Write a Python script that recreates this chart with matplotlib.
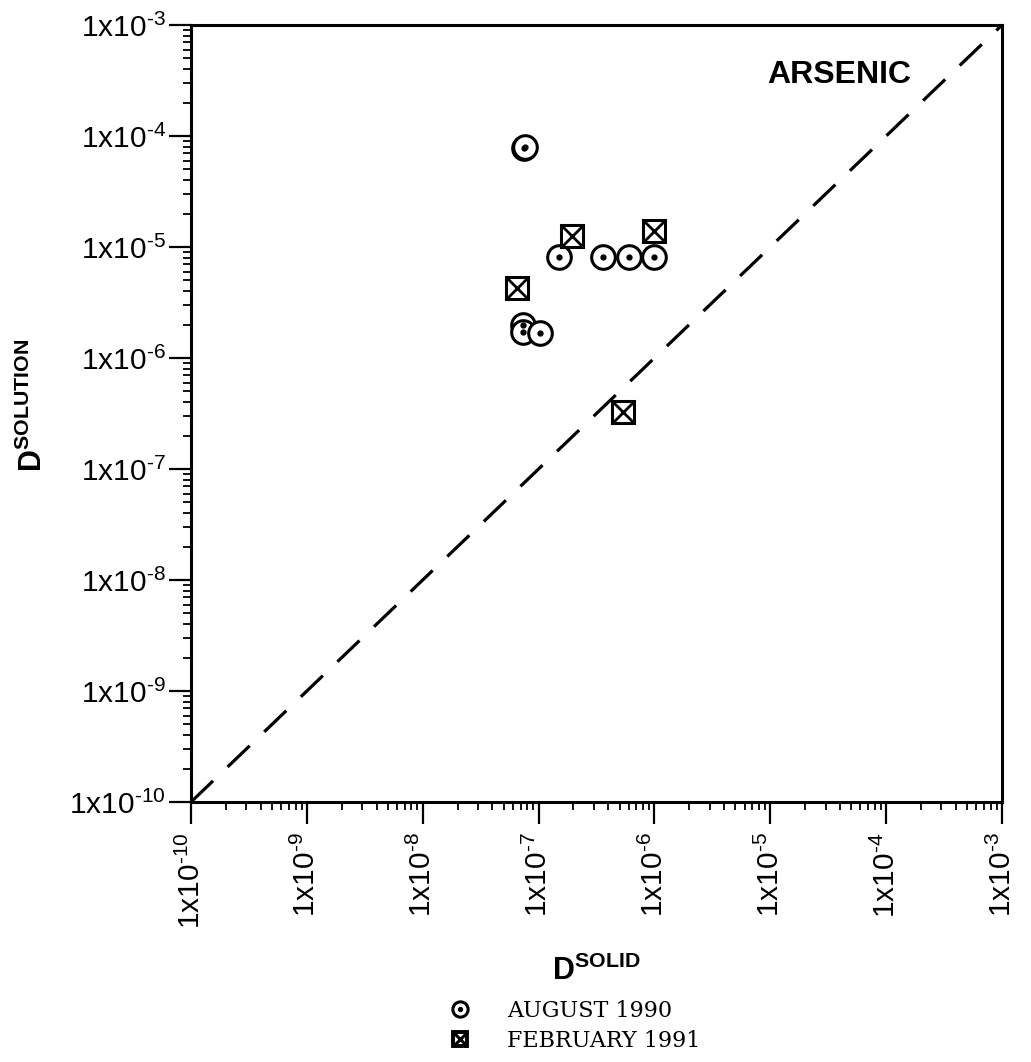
import numpy as np
import matplotlib
matplotlib.use("Agg")
import matplotlib.pyplot as plt
from matplotlib.lines import Line2D
from matplotlib.legend_handler import HandlerTuple
from matplotlib.ticker import LogLocator, FuncFormatter, NullFormatter

# distribution coefficients, solid vs solution
aug_solid = [7.5e-8, 7.7e-8, 1.5e-7, 3.6e-7, 6.05e-7, 9.9e-7, 7.4e-8, 7.4e-8, 1.03e-7]
aug_solution = [7.8e-5, 7.95e-5, 8.1e-6, 8.1e-6, 8.1e-6, 8.1e-6, 2.0e-6, 1.73e-6, 1.69e-6]
feb_solid = [1.93e-7, 1.0e-6, 6.5e-8, 5.4e-7]
feb_solution = [1.26e-5, 1.4e-5, 4.25e-6, 3.28e-7]
limits = [1e-10, 1e-3]
element = "ARSENIC"
series_labels = ["AUGUST 1990", "FEBRUARY 1991"]

plt.rcParams['font.family'] = ['Liberation Sans', 'DejaVu Sans']
plt.rcParams['mathtext.fontset'] = 'custom'
plt.rcParams['mathtext.rm'] = 'Liberation Sans'
plt.rcParams['mathtext.it'] = 'Liberation Sans:italic'
plt.rcParams['mathtext.bf'] = 'Liberation Sans:bold'
plt.rcParams['lines.scale_dashes'] = False

fig = plt.figure(figsize=(10.31, 10.62), dpi=100)
ax = fig.add_axes([191/1031, 1-802/1062, (1002-191)/1031, (802-25)/1062])

# 1:1 line
ax.plot(limits, limits, color='black', lw=2.3, dashes=(22, 14.5), zorder=1)

ms = 17
ax.plot(aug_solid, aug_solution, ls='none', marker='o', ms=ms, mfc='white',
        mec='black', mew=2.2, zorder=3)
ax.plot(aug_solid, aug_solution, ls='none', marker='o', ms=3.5, color='black', zorder=4)
ax.plot(feb_solid, feb_solution, ls='none', marker='s', ms=15.5, mfc='white',
        mec='black', mew=2.2, zorder=3)
ax.plot(feb_solid, feb_solution, ls='none', marker='x', ms=15.5, color='black',
        mew=2.0, zorder=4)

ax.set_xscale('log')
ax.set_yscale('log')
ax.set_xlim(limits)
ax.set_ylim(limits)


def decade_label(v, _):
    e = int(round(np.log10(v)))
    sign = r'\text{-}' if e < 0 else ''
    return r'1x10$^{%s%d}$' % (sign, abs(e))


for axis in (ax.xaxis, ax.yaxis):
    axis.set_major_locator(LogLocator(base=10, numticks=20))
    axis.set_minor_locator(LogLocator(base=10, subs=np.arange(2, 10), numticks=20))
    axis.set_major_formatter(FuncFormatter(decade_label))
    axis.set_minor_formatter(NullFormatter())

ax.tick_params(which='major', direction='out', length=16, width=1.6, labelsize=21.5)
ax.tick_params(which='minor', direction='out', length=6, width=1.3)
ax.tick_params(axis='x', which='major', pad=6, labelrotation=90)
ax.tick_params(axis='y', which='major', pad=2)
for s in ax.spines.values():
    s.set_linewidth(2.2)

ax.text(0.71, 0.955, element, transform=ax.transAxes, fontsize=23,
        fontweight='bold', ha='left', va='top')

fig.text(596/1031, 1-980/1062, r'$\mathbf{D^{SOLID}}$', fontsize=22,
         ha='center', va='baseline')
fig.text(33/1031, 1-405/1062, r'$\mathbf{D^{SOLUTION}}$', fontsize=22,
         rotation=90, ha='center', va='center')

# legend
h_aug = (Line2D([], [], ls='none', marker='o', ms=11, mfc='white', mec='black', mew=2.2),
         Line2D([], [], ls='none', marker='o', ms=2.8, color='black'))
h_feb = (Line2D([], [], ls='none', marker='s', ms=10.5, mfc='white', mec='black', mew=2.8),
         Line2D([], [], ls='none', marker='x', ms=10.5, color='black', mew=2.2))
fig.legend([h_aug, h_feb], series_labels, handler_map={tuple: HandlerTuple(ndivide=1)},
           loc='upper left', bbox_to_anchor=(447/1031, 1-1000/1062), frameon=False,
           prop={'family': 'DejaVu Serif', 'size': 16}, handlelength=1.2,
           handletextpad=1.5, labelspacing=0.35, borderpad=0, borderaxespad=0)

fig.savefig('out.png', dpi=100)
